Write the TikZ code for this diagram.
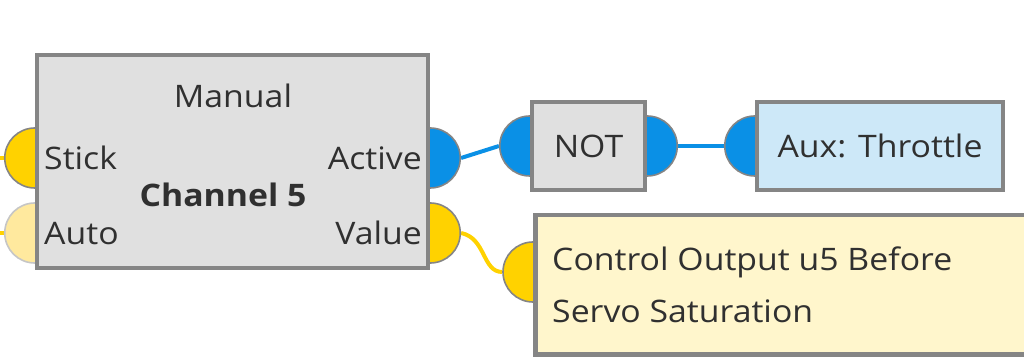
\documentclass[tikz,border=0pt]{standalone}
\usepackage{fontspec}
\setmainfont{Open Sans}[FakeStretch=1.09]
\pgfdeclarelayer{conn}
\pgfdeclarelayer{ports}
\pgfsetlayers{conn,ports,main}
\definecolor{boxgray}{HTML}{E0E0E0}
\definecolor{edgegray}{HTML}{858585}
\definecolor{portyellow}{HTML}{FFD200}
\definecolor{paleyellow}{HTML}{FFE99E}
\definecolor{portblue}{HTML}{0A90E6}
\definecolor{auxblue}{HTML}{CDE8F8}
\definecolor{ctlyellow}{HTML}{FFF6CC}
\definecolor{txt}{HTML}{303030}
\tikzset{
  blk/.style={draw=edgegray, line width=4.5pt, inner sep=0pt, text=txt},
  port/.style={circle, draw=edgegray, line width=1.6pt, minimum size=60pt, inner sep=0pt},
  yport/.style={port, fill=portyellow},
  bport/.style={port, fill=portblue},
  pport/.style={port, fill=paleyellow, draw=gray!45},
  wire/.style={line width=4pt},
  lbl/.style={text=txt, font=\fontsize{31}{36}\selectfont, inner sep=0pt},
}
\begin{document}
\begin{tikzpicture}[x=1pt,y=1pt]
\useasboundingbox (0,0) rectangle (1024,356);
% main block
\node[blk, fill=boxgray, minimum width=391pt, minimum height=213pt] (main) at (232.5,194.5) {};
\node[lbl, anchor=base] (manual) at (233,248) {Manual};
\node[lbl, anchor=base west] (stick) at (44,186) {Stick};
\node[lbl, anchor=base west] (auto) at (44,111) {Auto};
\node[lbl, anchor=base east] (active) at (422,186) {Active};
\node[lbl, anchor=base east] (value) at (422,111) {Value};
\node[lbl, anchor=center, font=\fontsize{31}{36}\selectfont\bfseries] (ch) at (223,161) {Channel 5};
% NOT block
\node[blk, fill=boxgray, minimum width=113pt, minimum height=88pt, font=\fontsize{31}{36}\selectfont] (not) at (588.5,210) {NOT};
% Aux block
\node[blk, fill=auxblue, minimum width=246pt, minimum height=88pt, font=\fontsize{31}{36}\selectfont] (aux) at (880,210) {Aux: Throttle};
% Control output block
\node[blk, fill=ctlyellow, minimum width=520pt, minimum height=139pt, anchor=north west] (ctl) at (533,143) {};
\node[lbl, anchor=base west] (ctl1) at (552,85) {Control Output u5 Before};
\node[lbl, anchor=base west] (ctl2) at (552,34) {Servo Saturation};
% ports
\begin{pgfonlayer}{ports}
\node[yport] (pstick) at (main.west |- 0,198) {};
\node[pport] (pauto) at (main.west |- 0,123) {};
\node[bport] (pactive) at (main.east |- 0,198) {};
\node[yport] (pvalue) at (main.east |- 0,123) {};
\node[bport] (pnotin) at (not.west) {};
\node[bport] (pnotout) at (not.east) {};
\node[bport] (pauxin) at (aux.west) {};
\node[yport] (pctlin) at (533,84) {};
\end{pgfonlayer}
\coordinate (sstub) at (0,198);
\coordinate (astub) at (0,123);
\begin{pgfonlayer}{conn}
\draw[wire, portyellow] (sstub) -- (pstick.center);
\draw[wire, portyellow] (astub) -- (pauto.center);
\draw[wire, portblue] (pactive.east) -- (pnotin.west);
\draw[wire, portblue] (pnotout.east) -- (pauxin.west);
\draw[wire, portyellow] (pvalue.east) .. controls +(25,-5) and +(-20,0) .. (pctlin.west);
\end{pgfonlayer}
\end{tikzpicture}
\end{document}
